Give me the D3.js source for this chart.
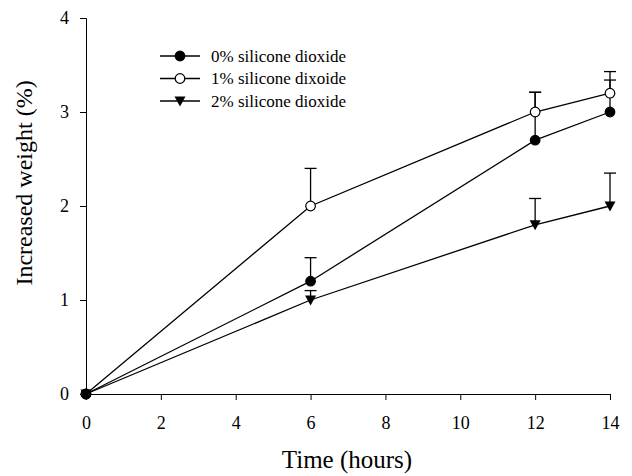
<!DOCTYPE html>
<html>
<head>
<meta charset="utf-8">
<script src="https://cdn.jsdelivr.net/npm/d3@7"></script>
<style>
  body { margin: 0; background: #fff; }
  svg text { font-family: "Liberation Serif", "Times New Roman", serif; fill: #000; }
  .axis path, .axis line { stroke: #000; stroke-width: 1; }
</style>
</head>
<body>
<svg width="632" height="476"></svg>
<script>
var hours = [0, 6, 12, 14];
var seriesNames = ["0% silicone dioxide", "1% silicone dixoide", "2% silicone dioxide"];
var seriesMarkers = ["filled", "open", "triangle"];
var values0 = [0, 1.2, 2.7, 3.0];
var values1 = [0, 2.0, 3.0, 3.2];
var values2 = [0, 1.0, 1.8, 2.0];
var upper0 = [0, 1.45, 3.21, 3.34];
var upper1 = [0, 2.4, 3.21, 3.43];
var upper2 = [0, 1.1, 2.08, 2.35];
var xTicks = [0, 2, 4, 6, 8, 10, 12, 14];
var yTicks = [0, 1, 2, 3, 4];

var svg = d3.select("svg"),
    plotLeft = 86, plotRight = 610, plotTop = 18, plotBottom = 394;

var x = d3.scaleLinear().domain([0, 14]).range([plotLeft, plotRight]);
var y = d3.scaleLinear().domain([0, 4]).range([plotBottom, plotTop]);

var series = seriesNames.map((name, i) => ({
    name: name,
    marker: seriesMarkers[i],
    values: [values0, values1, values2][i],
    upper: [upper0, upper1, upper2][i]
}));

// axes
svg.append("g")
    .attr("class", "axis")
    .attr("transform", "translate(0," + plotBottom + ")")
    .call(d3.axisBottom(x).tickValues(xTicks).tickFormat(d3.format("d"))
        .tickSize(6).tickSizeOuter(6).tickPadding(16))
    .call(g => g.selectAll("text").attr("font-size", 18));

svg.append("g")
    .attr("class", "axis")
    .attr("transform", "translate(" + plotLeft + ",0)")
    .call(d3.axisLeft(y).tickValues(yTicks).tickFormat(d3.format("d"))
        .tickSize(6).tickSizeOuter(6).tickPadding(11))
    .call(g => g.selectAll("text").attr("font-size", 18));

svg.selectAll(".domain").attr("fill", "none");

svg.append("text")
    .attr("x", 347)
    .attr("y", 468)
    .attr("text-anchor", "middle")
    .attr("font-size", 25)
    .text("Time (hours)");

svg.append("text")
    .attr("transform", "translate(32,183) rotate(-90)")
    .attr("text-anchor", "middle")
    .attr("font-size", 24)
    .text("Increased weight (%)");

var line = d3.line().x((d, i) => x(hours[i])).y(d => y(d));

var gLines = svg.append("g"),
    gErr = svg.append("g"),
    gMarks = svg.append("g");

// error bars (upper only)
series.forEach(s => {
    hours.forEach((h, i) => {
        if (s.upper[i] <= s.values[i]) return;
        gErr.append("line")
            .attr("x1", x(h)).attr("x2", x(h))
            .attr("y1", y(s.values[i])).attr("y2", y(s.upper[i]))
            .attr("stroke", "#000").attr("stroke-width", 1.3);
        gErr.append("line")
            .attr("x1", x(h) - 6).attr("x2", x(h) + 6)
            .attr("y1", y(s.upper[i])).attr("y2", y(s.upper[i]))
            .attr("stroke", "#000").attr("stroke-width", 1.3);
    });
});

series.forEach(s => {
    gLines.append("path")
        .attr("d", line(s.values))
        .attr("fill", "none")
        .attr("stroke", "#000")
        .attr("stroke-width", 1.3);
});

function drawMarker(g, kind, cx, cy) {
    if (kind == "triangle") {
        g.append("path")
            .attr("d", "M" + (cx - 5.5) + "," + (cy - 4.5) + "L" + (cx + 5.5) + "," + (cy - 4.5) + "L" + cx + "," + (cy + 5.5) + "Z")
            .attr("fill", "#000");
    } else {
        g.append("circle")
            .attr("cx", cx).attr("cy", cy).attr("r", 4.8)
            .attr("fill", kind == "filled" ? "#000" : "#fff")
            .attr("stroke", "#000").attr("stroke-width", 1.2);
    }
}

// triangles first so circles sit on top at the origin
[2, 1, 0].forEach(k => {
    var s = series[k];
    s.values.forEach((v, i) => drawMarker(gMarks, s.marker, x(hours[i]), y(v)));
});

// legend
var legend = svg.append("g");
series.forEach((s, i) => {
    var ly = 56 + i * 22.5;
    legend.append("line")
        .attr("x1", 160).attr("x2", 200)
        .attr("y1", ly).attr("y2", ly)
        .attr("stroke", "#000").attr("stroke-width", 1.3);
    drawMarker(legend, s.marker, 180, ly);
    legend.append("text")
        .attr("x", 211).attr("y", ly + 5.5)
        .attr("font-size", 17)
        .text(s.name);
});
</script>
</body>
</html>
